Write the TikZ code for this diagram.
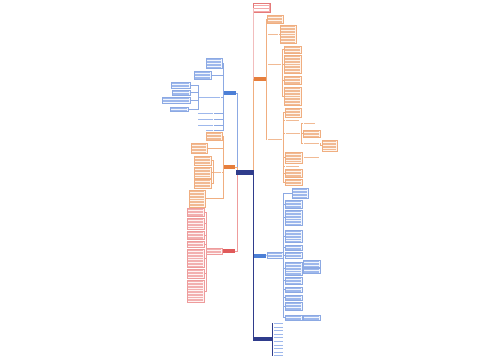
\documentclass[tikz,border=0pt]{standalone}
\usepackage{tikz}

\definecolor{ocol}{HTML}{F0AE80}
\definecolor{ofil}{HTML}{FEF5EE}
\definecolor{otx}{HTML}{F1BA94}
\definecolor{omain}{HTML}{E67E3C}
\definecolor{bcol}{HTML}{8CA9E3}
\definecolor{bfil}{HTML}{F2F6FD}
\definecolor{btx}{HTML}{9EB8EC}
\definecolor{bmain}{HTML}{4C7FD6}
\definecolor{rcol}{HTML}{EE9C9C}
\definecolor{rfil}{HTML}{FEF3F3}
\definecolor{rtx}{HTML}{F2B0B0}
\definecolor{rmain}{HTML}{E05A5A}
\definecolor{ncol}{HTML}{2F3C8C}
\definecolor{pcol}{HTML}{F2BDBD}
\definecolor{tfil}{HTML}{F4A9A9}
\definecolor{tdraw}{HTML}{E57A7A}

\tikzset{
  sz/.style 2 args={minimum width=#1pt, minimum height=#2pt},
  txt/.style={path picture={
    \foreach \k in {0,...,15}
      \draw[#1, line width=0.45pt]
        ([xshift=1pt,yshift={-1.3pt-1.6pt*\k}]path picture bounding box.north west) --
        ([xshift=-1pt,yshift={-1.3pt-1.6pt*\k}]path picture bounding box.north east);}},
  base/.style={rectangle, inner sep=0pt, outer sep=0pt, line width=0.3pt},
  obox/.style={base, draw=ocol, fill=ofil, txt=otx},
  bbox/.style={base, draw=bcol, fill=bfil, txt=btx},
  rbox/.style={base, draw=rcol, fill=rfil, txt=rtx},
  olab/.style={base, txt=otx},
  blab/.style={base, txt=btx},
  mainnode/.style={base, fill=#1},
  titlebox/.style={base, draw=tdraw, fill=tfil, txt=white},
  olink/.style={draw=ocol, line width=0.5pt},
  blink/.style={draw=bcol, line width=0.5pt},
  rlink/.style={draw=rcol, line width=0.5pt},
  nlink/.style={draw=ncol, line width=0.6pt},
  plink/.style={draw=pcol, line width=0.5pt},
}

\begin{document}
\begin{tikzpicture}[x=1pt, y=-1pt]
    \path[fill=white] (0,0) rectangle (500,360);
    \useasboundingbox (0,0) rectangle (500,360);

    % centre and title
    \node at (245,172.5) [mainnode=ncol, sz={18}{5}] (root) {};
    \node at (261.5,7.5) [titlebox, sz={17}{9}] (title) {};

    % main branches
    \node at (259.5,79) [mainnode=omain, sz={13}{4}] (ro) {};
    \node at (259.5,255.5) [mainnode=bmain, sz={13}{4}] (rb) {};
    \node at (262.5,339) [mainnode=ncol, sz={19}{4}] (rn) {};
    \node at (229.5,93) [mainnode=bmain, sz={13}{4}] (lb) {};
    \node at (229,167) [mainnode=omain, sz={12}{4}] (lo) {};
    \node at (229,251) [mainnode=rmain, sz={12}{4}] (lr) {};

    % right orange branch
    \node at (275,19) [obox, sz={16}{8}] (ro1) {};
    \node at (273,34) [olab, sz={12}{2}] (ro2) {};
    \node at (288,34) [obox, sz={16}{18}] (ro2a) {};
    \node at (274.5,64) [olab, sz={15}{2}] (ro3) {};
    \node at (292.5,49.5) [obox, sz={17}{7}] (ro3a) {};
    \node at (292.5,64) [obox, sz={17}{18}] (ro3b) {};
    \node at (292.5,80) [obox, sz={17}{8}] (ro3c) {};
    \node at (292.5,96) [obox, sz={17}{18}] (ro3d) {};
    \node at (275,139) [olab, sz={16}{2}] (ro4) {};
    \node at (293,112.5) [obox, sz={16}{9}] (ro4a) {};
    \node at (292.5,120) [olab, sz={15}{2}] (ro4b) {};
    \node at (293,133) [olab, sz={16}{2}] (ro4c) {};
    \node at (309.5,123) [olab, sz={13}{2}] (ro4c1) {};
    \node at (311.5,133.5) [obox, sz={17}{7}] (ro4c2) {};
    \node at (311.5,143) [olab, sz={17}{2}] (ro4c3) {};
    \node at (329.5,145.5) [obox, sz={15}{11}] (ro4c3a) {};
    \node at (293.5,157.5) [obox, sz={17}{11}] (ro4d) {};
    \node at (311.5,157) [olab, sz={17}{2}] (ro4d1) {};
    \node at (292.5,166) [olab, sz={15}{2}] (ro4e) {};
    \node at (293.5,173) [obox, sz={17}{8}] (ro4f) {};
    \node at (293.5,182) [obox, sz={17}{6}] (ro4g) {};

    % right blue branch
    \node at (275,255) [bbox, sz={16}{6}] (rb0) {};
    \node at (300,193) [bbox, sz={16}{10}] (rb1) {};
    \node at (293.5,204) [bbox, sz={17}{8}] (rb2) {};
    \node at (293.5,217.5) [bbox, sz={17}{15}] (rb3) {};
    \node at (293.5,236) [bbox, sz={17}{12}] (rb4) {};
    \node at (293.5,247.5) [bbox, sz={17}{5}] (rb5) {};
    \node at (293.5,255) [bbox, sz={17}{6}] (rb6) {};
    \node at (293.5,268.5) [bbox, sz={17}{13}] (rb7) {};
    \node at (311.5,263.5) [bbox, sz={17}{7}] (rb7a) {};
    \node at (311.5,270.5) [bbox, sz={17}{5}] (rb7b) {};
    \node at (293.5,280.5) [bbox, sz={17}{7}] (rb8) {};
    \node at (293.5,289.5) [bbox, sz={17}{5}] (rb9) {};
    \node at (293.5,297.5) [bbox, sz={17}{5}] (rb10) {};
    \node at (293.5,306) [bbox, sz={17}{8}] (rb11) {};
    \node at (293.5,317.5) [bbox, sz={17}{5}] (rb12) {};
    \node at (311.5,317.5) [bbox, sz={17}{5}] (rb12a) {};

    % right navy branch
    \node at (278.5,323) [blab, sz={11}{2}] (rn0) {};
    \node at (278.5,326.6) [blab, sz={11}{2}] (rn1) {};
    \node at (278.5,330.2) [blab, sz={11}{2}] (rn2) {};
    \node at (278.5,333.8) [blab, sz={11}{2}] (rn3) {};
    \node at (278.5,337.4) [blab, sz={11}{2}] (rn4) {};
    \node at (278.5,341) [blab, sz={11}{2}] (rn5) {};
    \node at (278.5,344.6) [blab, sz={11}{2}] (rn6) {};
    \node at (278.5,348.2) [blab, sz={11}{2}] (rn7) {};
    \node at (278.5,351.8) [blab, sz={11}{2}] (rn8) {};
    \node at (278.5,355.4) [blab, sz={11}{2}] (rn9) {};

    % left blue branch
    \node at (214,63) [bbox, sz={16}{10}] (lb1) {};
    \node at (202.5,75) [bbox, sz={17}{8}] (lb2) {};
    \node at (209.5,97) [blab, sz={23}{2}] (lb3) {};
    \node at (180.5,85) [bbox, sz={19}{6}] (lb3a) {};
    \node at (181,92.5) [bbox, sz={18}{5}] (lb3b) {};
    \node at (176,100) [bbox, sz={28}{6}] (lb3c) {};
    \node at (179,109) [bbox, sz={18}{4}] (lb3d) {};
    \node at (205.5,113) [blab, sz={17}{2}] (lb4) {};
    \node at (205.5,119) [blab, sz={17}{2}] (lb5) {};
    \node at (205.5,125) [blab, sz={17}{2}] (lb6) {};
    \node at (209.5,130) [blab, sz={9}{2}] (lb7) {};

    % left orange branch
    \node at (214,136) [obox, sz={16}{8}] (lo1) {};
    \node at (199,148) [obox, sz={16}{10}] (lo2) {};
    \node at (217.5,172) [olab, sz={9}{2}] (lo3) {};
    \node at (202.5,160.5) [obox, sz={17}{9}] (lo3a) {};
    \node at (202.5,172.5) [obox, sz={17}{11}] (lo3b) {};
    \node at (202.5,183.5) [obox, sz={17}{9}] (lo3c) {};
    \node at (197,198.5) [obox, sz={16}{17}] (lo4) {};

    % left red branch
    \node at (214,251) [rbox, sz={16}{6}] (lr0) {};
    \node at (195.5,212) [rbox, sz={17}{8}] (lr1) {};
    \node at (195.5,223.5) [rbox, sz={17}{11}] (lr2) {};
    \node at (195.5,235) [rbox, sz={17}{8}] (lr3) {};
    \node at (195.5,244) [rbox, sz={17}{6}] (lr4) {};
    \node at (195.5,258) [rbox, sz={17}{18}] (lr5) {};
    \node at (195.5,273.5) [rbox, sz={17}{9}] (lr6) {};
    \node at (195.5,291) [rbox, sz={17}{22}] (lr7) {};

    % centre links
    \draw[plink] ([xshift=-1pt]root.north east) |- (title.west);
    \draw[olink] ([xshift=-1pt]root.north east) |- (ro.west);
    \draw[blink] ([xshift=-1pt]root.south east) |- (rb.west);
    \draw[nlink] ([xshift=-1pt]root.south east) |- (rn.west);
    \draw[blink] ([xshift=1pt]root.north west) |- (lb.east);
    \draw[olink] ([xshift=1pt]root.north west) |- (lo.east);
    \draw[rlink] ([xshift=1pt]root.south west) |- (lr.east);

    % right orange links
    \draw[olink] (ro.east) |- (ro1.west);
    \draw[olink] (ro.east) |- (ro2.west);
    \draw[olink] (ro2.east) -- (ro2a.west);
    \draw[olink] (ro.east) |- (ro3.west);
    \draw[olink] (ro3.east) |- (ro3a.west);
    \draw[olink] (ro3.east) |- (ro3b.west);
    \draw[olink] (ro3.east) |- (ro3c.west);
    \draw[olink] (ro3.east) |- (ro3d.west);
    \draw[olink] (ro.east) |- (ro4.west);
    \draw[olink] (ro4.east) |- (ro4a.west);
    \draw[olink] (ro4.east) |- (ro4b.west);
    \draw[olink] (ro4.east) |- (ro4c.west);
    \draw[olink] (ro4c.east) |- (ro4c1.west);
    \draw[olink] (ro4c.east) |- (ro4c2.west);
    \draw[olink] (ro4c.east) |- (ro4c3.west);
    \draw[olink] (ro4c3.east) |- (ro4c3a.west);
    \draw[olink] (ro4.east) |- (ro4d.west);
    \draw[olink] (ro4d.east) |- (ro4d1.west);
    \draw[olink] (ro4.east) |- (ro4e.west);
    \draw[olink] (ro4.east) |- (ro4f.west);
    \draw[olink] (ro4.east) |- (ro4g.west);

    % right blue links
    \draw[blink] (rb.east) -- (rb0.west);
    \draw[blink] (rb0.east) |- (rb1.west);
    \draw[blink] (rb0.east) |- (rb2.west);
    \draw[blink] (rb0.east) |- (rb3.west);
    \draw[blink] (rb0.east) |- (rb4.west);
    \draw[blink] (rb0.east) |- (rb5.west);
    \draw[blink] (rb0.east) |- (rb6.west);
    \draw[blink] (rb0.east) |- (rb7.west);
    \draw[blink] (rb7.east) |- (rb7a.west);
    \draw[blink] (rb7.east) |- (rb7b.west);
    \draw[blink] (rb0.east) |- (rb8.west);
    \draw[blink] (rb0.east) |- (rb9.west);
    \draw[blink] (rb0.east) |- (rb10.west);
    \draw[blink] (rb0.east) |- (rb11.west);
    \draw[blink] (rb0.east) |- (rb12.west);
    \draw[blink] (rb12.east) -- (rb12a.west);

    % right navy links
    \draw[nlink] (rn.east) |- (rn0.west);
    \draw[nlink] (rn.east) |- (rn1.west);
    \draw[nlink] (rn.east) |- (rn2.west);
    \draw[nlink] (rn.east) |- (rn3.west);
    \draw[nlink] (rn.east) |- (rn4.west);
    \draw[nlink] (rn.east) |- (rn5.west);
    \draw[nlink] (rn.east) |- (rn6.west);
    \draw[nlink] (rn.east) |- (rn7.west);
    \draw[nlink] (rn.east) |- (rn8.west);
    \draw[nlink] (rn.east) |- (rn9.west);

    % left blue links
    \draw[blink] (lb.west) |- (lb1.east);
    \draw[blink] (lb.west) |- (lb2.east);
    \draw[blink] (lb.west) |- (lb3.east);
    \draw[blink] (lb3.west) |- (lb3a.east);
    \draw[blink] (lb3.west) |- (lb3b.east);
    \draw[blink] (lb3.west) |- (lb3c.east);
    \draw[blink] (lb3.west) |- (lb3d.east);
    \draw[blink] (lb.west) |- (lb4.east);
    \draw[blink] (lb.west) |- (lb5.east);
    \draw[blink] (lb.west) |- (lb6.east);
    \draw[blink] (lb.west) |- (lb7.east);

    % left orange links
    \draw[olink] (lo.west) |- (lo1.east);
    \draw[olink] (lo.west) |- (lo2.east);
    \draw[olink] (lo.west) |- (lo3.east);
    \draw[olink] (lo3.west) |- (lo3a.east);
    \draw[olink] (lo3.west) |- (lo3b.east);
    \draw[olink] (lo3.west) |- (lo3c.east);
    \draw[olink] (lo.west) |- (lo4.east);

    % left red links
    \draw[rlink] (lr.west) -- (lr0.east);
    \draw[rlink] (lr0.west) |- (lr1.east);
    \draw[rlink] (lr0.west) |- (lr2.east);
    \draw[rlink] (lr0.west) |- (lr3.east);
    \draw[rlink] (lr0.west) |- (lr4.east);
    \draw[rlink] (lr0.west) |- (lr5.east);
    \draw[rlink] (lr0.west) |- (lr6.east);
    \draw[rlink] (lr0.west) |- (lr7.east);

\end{tikzpicture}
\end{document}
